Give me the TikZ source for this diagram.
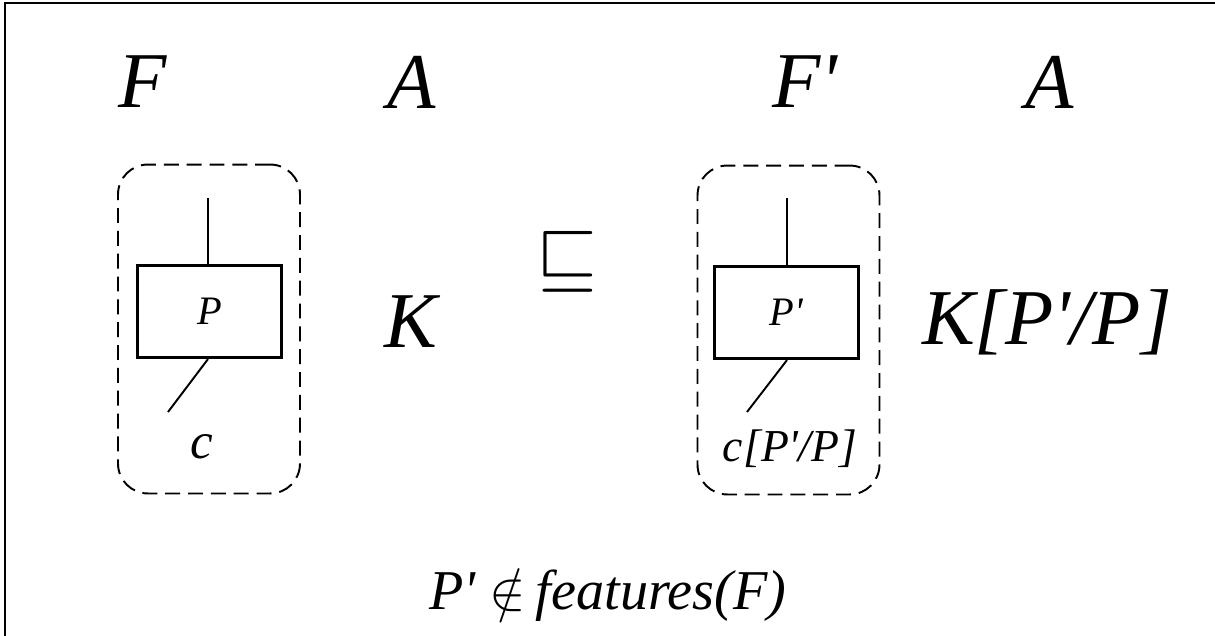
\documentclass[tikz,border=0pt]{standalone}
\usepackage{amssymb}
\usepackage{graphicx}
\usepackage{fontspec}
\setmainfont{Liberation Serif}
\usetikzlibrary{positioning}
\newcommand{\pr}{\textquotesingle}
\tikzset{
  big/.style={font=\fontsize{45}{50}\selectfont\itshape,inner sep=0pt},
  group/.style={draw,dash pattern=on 8.5pt off 4.5pt,line width=1.1pt,rounded corners=17pt,
                minimum width=3.64cm,minimum height=6.58cm},
  proc/.style={draw,line width=1.8pt,font=\fontsize{23}{26}\selectfont\itshape,
               minimum width=2.88cm,minimum height=1.84cm,inner sep=0pt},
  wire/.style={line width=1.1pt},
}

\begin{document}
\begin{tikzpicture}[x=0.02cm,y=-0.02cm]
  \useasboundingbox (0,0) rectangle (1215,636);
  % frame
  \draw[line width=1.3pt] (5,636) -- (5,3) -- (1215,3);
  % headings
  \node[big] (fL) at (143,82) {F};
  \node[big] (aL) at (412,82) {A};
  \node[big] (fR) at (805,82) {F\pr};
  \node[big] (aR) at (1050,82) {A};
  % left feature
  \node[group] (gL) at (209,329) {};
  \node[proc] (pL) at (209.5,311.5) {P};
  \coordinate (tL) at (208,198);
  \coordinate (bL) at (168,412);
  \draw[wire] (pL.north -| tL) -- (tL);
  \draw[wire] (pL.south -| tL) -- (bL);
  \node[font=\fontsize{29}{32}\selectfont\itshape,inner sep=0pt] (cL) at (202,447) {c};
  \node[big] (kL) at (411,322) {K};
  % refinement
  \node[inner sep=0pt] (sq) at (567,262) {\scalebox{1.8}{\fontsize{24.88}{28}\selectfont$\sqsubseteq$}};
  % right feature
  \node[group] (gR) at (788.5,330) {};
  \node[proc] (pR) at (786.5,312.5) {P\pr};
  \coordinate (tR) at (787,198);
  \coordinate (bR) at (747,412);
  \draw[wire] (pR.north -| tR) -- (tR);
  \draw[wire] (pR.south -| tR) -- (bR);
  \node[font=\fontsize{26}{30}\selectfont\itshape,inner sep=0pt] (cR) at (790,449) {c[P\pr/P]};
  \node[big] (kR) at (1047,322) {K[P\pr/P]};
  % side condition
  \node[font=\fontsize{32}{36}\selectfont\itshape,inner sep=0pt] (cond) at (608,595)
    {P\pr\ \scalebox{1.25}{$\notin$}\,features(F)};
\end{tikzpicture}
\end{document}
